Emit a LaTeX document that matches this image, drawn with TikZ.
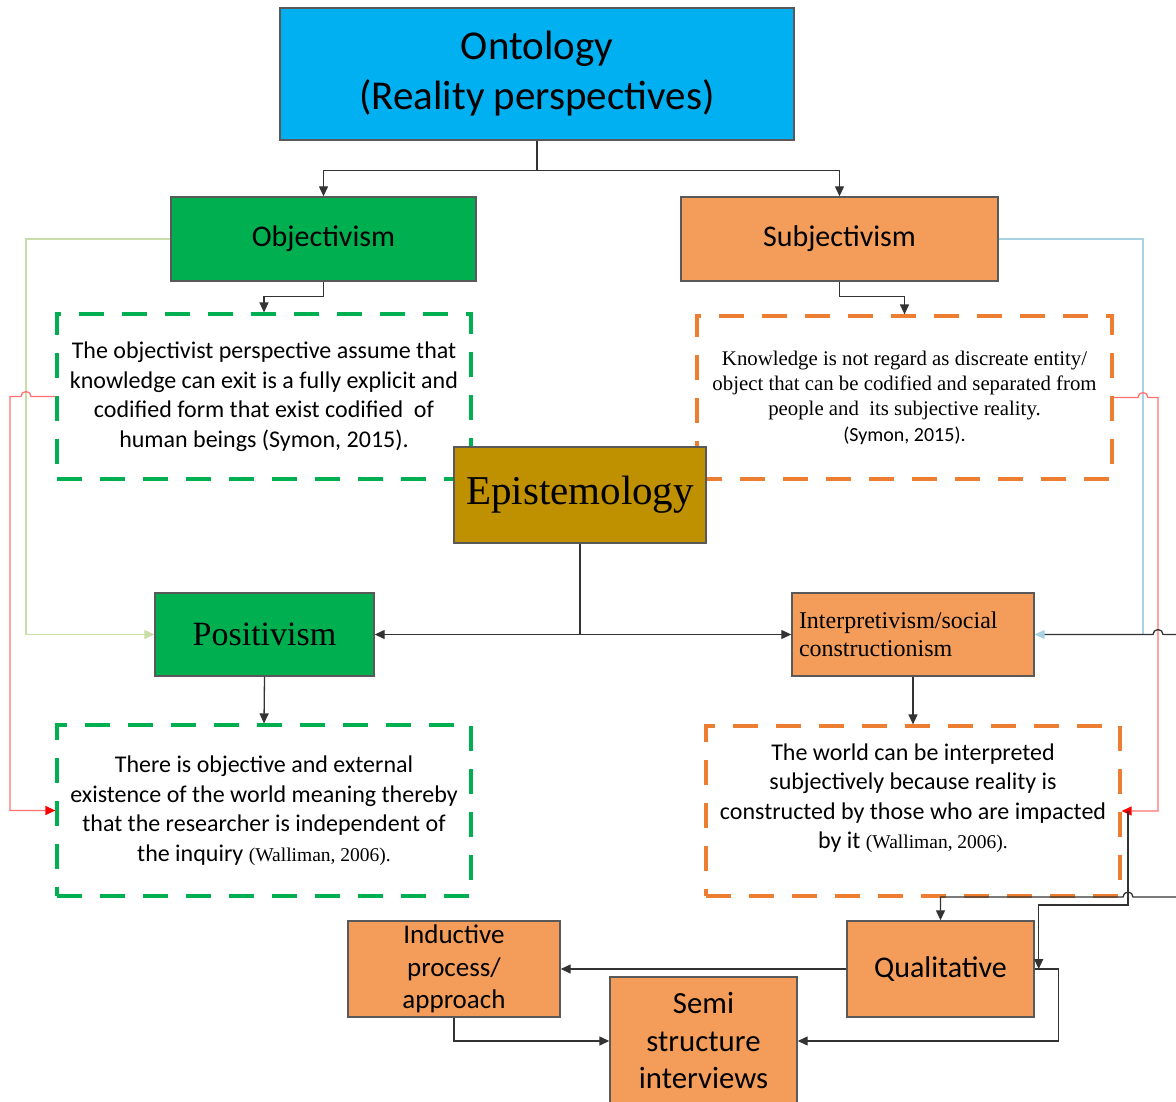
\documentclass[tikz,border=0pt]{standalone}
\usepackage{fontspec}
\setmainfont{Carlito}
\newfontfamily\timesfont{Liberation Serif}
\usetikzlibrary{arrows.meta,calc}
\definecolor{ontoblue}{HTML}{00B0F0}
\definecolor{objgreen}{HTML}{00B050}
\definecolor{subjorange}{HTML}{F49D5A}
\definecolor{epigold}{HTML}{BF9000}
\definecolor{dashgreen}{HTML}{00B050}
\definecolor{dashorange}{HTML}{ED7D31}
\definecolor{palegreen}{HTML}{C8DDA8}
\definecolor{paleblue}{HTML}{A6D2E3}
\definecolor{palered}{HTML}{FF7070}
\tikzset{
  block/.style={draw=black!65, line width=1.4pt, inner sep=0pt, align=center},
  notebox/.style={line width=3.2pt, dash pattern=on 25pt off 18pt, inner sep=0pt, align=center},
  link/.style={draw=black!80, line width=1.3pt},
  arrowlink/.style={-{Triangle[length=10pt,width=9pt]}}
}

\begin{document}
\begin{tikzpicture}[x=1pt,y=-1pt]
			%%%%% START %%%%%
			\useasboundingbox (0,0) rectangle (1176,1101);
			\clip (0,0) rectangle (1176,1101);
			
			\node[block, fill=ontoblue, minimum width=514pt, minimum height=132pt, font=\fontsize{41}{50}\selectfont] (ontology) at (537,74) {Ontology\\(Reality perspectives)};
			\node[block, fill=objgreen, minimum width=305pt, minimum height=84pt, font=\fontsize{30}{36}\selectfont] (objectivism) at (323.5,239) {Objectivism};
			\node[block, fill=subjorange, minimum width=317pt, minimum height=84pt, font=\fontsize{30}{36}\selectfont] (subjectivism) at (839.5,239) {Subjectivism};
			
			\node[notebox, draw=dashgreen, minimum width=414pt, minimum height=165pt, font=\fontsize{24}{29.5}\selectfont] (objnote) at (264,396.5) {The objectivist perspective assume that\\knowledge can exit is a fully explicit and\\codified form that exist codified\ \ of\\human beings (Symon, 2015).};
			\node[notebox, draw=dashorange, minimum width=415pt, minimum height=163pt, font=\timesfont\fontsize{20.8}{25.3}\selectfont] (subjnote) at (904.5,397.5) {Knowledge is not regard as discreate entity/\\object that can be codified and separated from\\people and\ \ its subjective reality.\\{\rmfamily\fontsize{20}{25.3}\selectfont (Symon, 2015).}};
			
			\node[notebox, draw=dashgreen, minimum width=414pt, minimum height=171pt, font=\fontsize{24}{29.5}\selectfont] (posnote) at (264,810.5) {There is objective and external\\existence of the world meaning thereby\\that the researcher is independent of\\the inquiry {\timesfont\fontsize{19.5}{29.5}\selectfont (Walliman, 2006).}};
			\node[notebox, draw=dashorange, minimum width=414pt, minimum height=170pt] (interpnote) at (913,811) {};
			\node[align=center, inner sep=0pt, font=\fontsize{24}{29.5}\selectfont] (interptext) at (913,798) {The world can be interpreted\\subjectively because reality is\\constructed by those who are impacted\\by it {\timesfont\fontsize{19.5}{29.5}\selectfont (Walliman, 2006).}};
			
			\node[block, fill=epigold, minimum width=252pt, minimum height=96pt, font=\timesfont\fontsize{41}{48}\selectfont] (epistemology) at (580,495) {Epistemology};
			\node[block, fill=objgreen, minimum width=219pt, minimum height=83pt, font=\timesfont\fontsize{34}{40}\selectfont] (positivism) at (264.5,634.5) {Positivism};
			\node[block, fill=subjorange, minimum width=242pt, minimum height=83pt, text width=228pt, align=left, font=\timesfont\fontsize{24}{28}\selectfont] (interpretivism) at (913,634.5) {Interpretivism/social\\constructionism};
			
			\node[block, fill=subjorange, minimum width=212pt, minimum height=96pt, font=\fontsize{27}{32.5}\selectfont] (inductive) at (454,969) {Inductive\\process/\\approach};
			\node[block, fill=subjorange, minimum width=187pt, minimum height=96pt, font=\fontsize{30}{36}\selectfont] (qualitative) at (940.5,969) {Qualitative};
			\node[block, fill=subjorange, minimum width=187pt, minimum height=128pt, font=\fontsize{30.8}{37.5}\selectfont] (semi) at (703.5,1041) {Semi\\structure\\interviews};
			
			%%%%% LINKS %%%%%
			\draw[link, arrowlink] (ontology.south) -- ++(0,30) -| (objectivism.north);
			\draw[link, arrowlink] (ontology.south) -- ++(0,30) -| (subjectivism.north);
			\draw[link, arrowlink] (objectivism.south) -- ++(0,15) -| (objnote.north);
			\draw[link, arrowlink] (subjectivism.south) -- ++(0,15) -| (subjnote.north);
			\draw[link, arrowlink] (epistemology.south) |- (positivism.east);
			\draw[link, arrowlink] (epistemology.south) |- (interpretivism.west);
			\draw[link, arrowlink] (positivism.south) -- (posnote.north);
			\draw[link, arrowlink] (interpretivism.south) -- (interpnote.north);
			
			\draw[palegreen, line width=1.3pt, arrowlink] (objectivism.west) -- (26,239) |- (positivism.west);
			\draw[paleblue, line width=1.3pt, arrowlink] (subjectivism.east) -- (1143,239) |- (interpretivism.east);
			\draw[palered, line width=1.3pt, -{Triangle[length=10pt,width=9pt,color=red]}] (objnote.west) -- (31,396.5) arc[start angle=0, end angle=180, radius=5pt] -- (10,396.5) |- (posnote.west);
			\draw[palered, line width=1.3pt, -{Triangle[length=10pt,width=9pt,color=red]}] (subjnote.east) -- (1138,397.5) arc[start angle=180, end angle=0, radius=5pt] -- (1158,397.5) |- (interpnote.east);
			
			\coordinate (eastin) at (1176,634.5);
			\coordinate (southin) at (1176,897);
			\coordinate (interpout) at (1128,811);
			\coordinate (qualin) at ($(qualitative.east)+(4,0)$);
			\draw[link, shorten >=10pt] (eastin) -- (1163,634.5) arc[start angle=0, end angle=180, radius=5pt] -- (interpretivism.east);
			\draw[link, arrowlink] (southin) -- (1133,897) arc[start angle=0, end angle=180, radius=5pt] -| (qualitative.north);
			\draw[link, arrowlink] (interpout) -- (1128,905) -| (qualin);
			\draw[link, arrowlink] (qualitative.east) -- ++(24,0) |- (semi.east);
			\draw[link, arrowlink] (qualitative.west) -- (inductive.east);
			\draw[link, arrowlink] (inductive.south) |- (semi.west);
			
			%%%%% END %%%%%
\end{tikzpicture}
\end{document}
